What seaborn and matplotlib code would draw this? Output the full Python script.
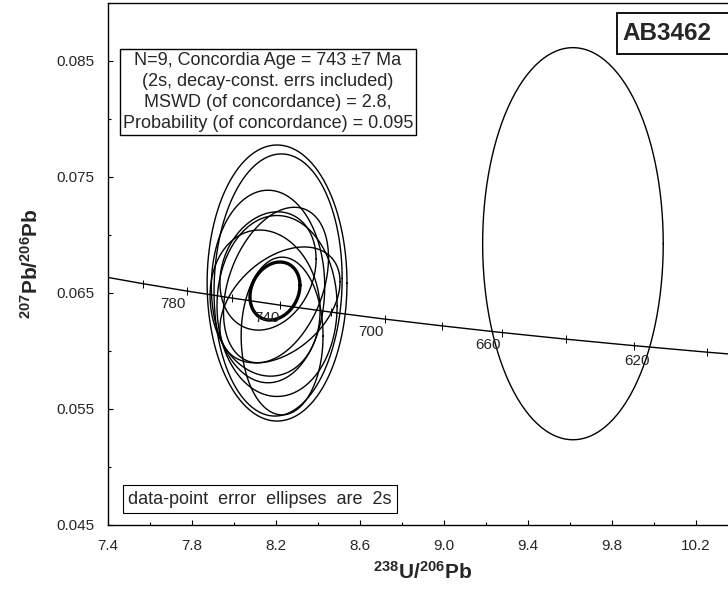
import numpy as np
import pandas as pd
import matplotlib
matplotlib.use('Agg')
import matplotlib.pyplot as plt
import seaborn as sns
from matplotlib.patches import Rectangle
from matplotlib.ticker import FixedLocator, FormatStrFormatter

# Concordia curve: age ticks (Ma) and their positions
conc_age = [820, 800, 780, 760, 740, 720, 700, 680, 660, 640, 620, 600, 580]
conc_x = [7.372, 7.568, 7.775, 7.992, 8.221, 8.462, 8.718, 8.989, 9.276, 9.581, 9.905, 10.252, 10.622]
conc_y = [0.06643, 0.06580, 0.06517, 0.06456, 0.06395, 0.06335, 0.06275, 0.06217, 0.06159, 0.06102, 0.06046, 0.05990, 0.05935]
label_ages = [780, 740, 700, 660, 620]

# Data-point error ellipses (2s): centre, half-axes, error correlation
ell_x = [8.205, 8.210, 8.162, 8.200, 8.205, 8.219, 8.229, 8.148, 8.162, 9.614]
ell_y = [0.06586, 0.06569, 0.06556, 0.06569, 0.06388, 0.06397, 0.06129, 0.06413, 0.06690, 0.06925]
ell_sx = [0.333, 0.305, 0.270, 0.250, 0.286, 0.286, 0.195, 0.262, 0.229, 0.430]
ell_sy = [0.0119, 0.0113, 0.0083, 0.0067, 0.0078, 0.0050, 0.0068, 0.0063, 0.0051, 0.0169]
ell_rho = [0.0, 0.05, 0.0, 0.35, 0.0, 0.4, 0.0, -0.1, 0.2, 0.0]

# Concordia age ellipse
age_x, age_y, age_sx, age_sy, age_rho = 8.195, 0.06517, 0.119, 0.0025, 0.2

x_major = [7.4, 7.8, 8.2, 8.6, 9.0, 9.4, 9.8, 10.2]
x_minor = [7.6, 8.0, 8.4, 8.8, 9.2, 9.6, 10.0]
y_major = [0.045, 0.055, 0.065, 0.075, 0.085]
y_minor = [0.050, 0.060, 0.070, 0.080]

stats_text = ("N=9, Concordia Age = 743 \u00b17 Ma\n"
              "(2s, decay-const. errs included)\n"
              "MSWD (of concordance) = 2.8,\n"
              "Probability (of concordance) = 0.095")


def ellipse_outline(cx, cy, sx, sy, rho, n=240):
    t = np.linspace(0, 2 * np.pi, n)
    x = cx + sx * np.cos(t)
    y = cy + sy * (rho * np.cos(t) + np.sqrt(1 - rho ** 2) * np.sin(t))
    return x, y


sns.set_style('white')
plt.rcParams['font.family'] = ['Liberation Sans', 'DejaVu Sans']
plt.rcParams['mathtext.fontset'] = 'custom'
plt.rcParams['mathtext.rm'] = 'Liberation Sans'
plt.rcParams['mathtext.bf'] = 'Liberation Sans:bold'

fig = plt.figure(figsize=(7.28, 5.96), dpi=100)
ax = fig.add_axes([108 / 728, 71 / 596, 630 / 728, 522 / 596])

# error ellipses
rows = []
for i in range(len(ell_x)):
    ex, ey = ellipse_outline(ell_x[i], ell_y[i], ell_sx[i], ell_sy[i], ell_rho[i])
    rows.append(pd.DataFrame({'x': ex, 'y': ey, 'id': i}))
ell_df = pd.concat(rows, ignore_index=True)
sns.lineplot(data=ell_df, x='x', y='y', units='id', estimator=None, sort=False,
             color='black', lw=1.0, ax=ax)

ax_x, ax_y = ellipse_outline(age_x, age_y, age_sx, age_sy, age_rho)
sns.lineplot(x=ax_x, y=ax_y, sort=False, estimator=None, color='black', lw=2.4, ax=ax)

# concordia curve with age ticks
sns.lineplot(x=conc_x, y=conc_y, sort=False, estimator=None, color='black', lw=1.0, ax=ax)
ax.plot(conc_x, conc_y, ls='none', marker='|', ms=6, mew=0.7, color='black')
for age, cx, cy in zip(conc_age, conc_x, conc_y):
    if age in label_ages:
        off = (2, -11) if age == 620 else (-10, -9)
        ax.annotate(str(age), (cx, cy), xytext=off, textcoords='offset points',
                    ha='center', va='center', fontsize=11)

ax.set_xlim(7.4, 10.4)
ax.set_ylim(0.045, 0.090)
ax.xaxis.set_major_locator(FixedLocator(x_major))
ax.xaxis.set_minor_locator(FixedLocator(x_minor))
ax.yaxis.set_major_locator(FixedLocator(y_major))
ax.yaxis.set_minor_locator(FixedLocator(y_minor))
ax.xaxis.set_major_formatter(FormatStrFormatter('%.1f'))
ax.yaxis.set_major_formatter(FormatStrFormatter('%.3f'))
ax.tick_params(which='both', direction='in', top=False, right=False, bottom=True, left=True,
               width=0.8, color='black', labelsize=11, pad=10)
ax.tick_params(which='major', length=3.5)
ax.tick_params(which='minor', length=2.5)
for s in ax.spines.values():
    s.set_color('black')
    s.set_linewidth(1.0)
ax.spines['right'].set_visible(False)

ax.set_xlabel(r'$\mathbf{^{238}U/^{206}Pb}$', fontsize=15, labelpad=6)
ax.set_ylabel(r'$\mathbf{^{207}Pb/^{206}Pb}$', fontsize=15, labelpad=10)

ax.text(0.254, 0.8295, stats_text, transform=ax.transAxes, ha='center', va='center',
        fontsize=13, linespacing=1.3,
        bbox=dict(boxstyle='square,pad=0.15', fc='white', ec='black', lw=1.0))

ax.add_patch(Rectangle((0.808, 0.902), 0.3, 0.0785, transform=ax.transAxes,
                       fc='white', ec='black', lw=1.3, clip_on=False, zorder=5))
ax.text(0.816, 0.9416, 'AB3462', transform=ax.transAxes, ha='left', va='center',
        fontsize=17.5, fontweight='bold', zorder=6)

ax.text(0.032, 0.033, 'data-point  error  ellipses  are  2s', transform=ax.transAxes,
        ha='left', va='bottom', fontsize=13,
        bbox=dict(boxstyle='square,pad=0.3', fc='white', ec='black', lw=0.8))

fig.savefig('out.png', dpi=100)
